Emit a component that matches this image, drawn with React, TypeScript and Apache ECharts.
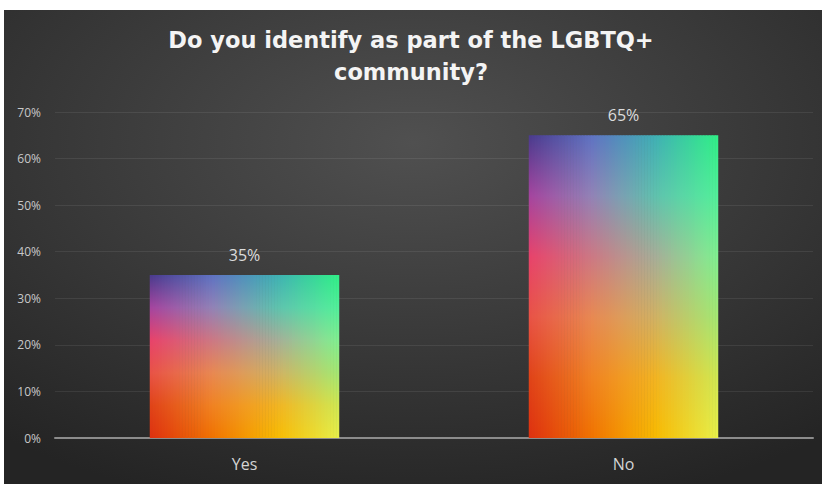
import React, { useEffect, useRef } from "react";
import * as echarts from "echarts";

const titleLines = ["Do you identify as part of the LGBTQ+", "community?"];
const categories = ["Yes", "No"];
const values = [35, 65];
const yTicks = { min: 0, max: 70, interval: 10 };

// colour grid for the rainbow picture fill (rows top->bottom, cols left->right)
const rowStops = [0, 0.2, 0.4, 0.6, 0.8, 1];
const colStops = [0, 0.33, 0.67, 1];
const colorGrid = [
  ["#4a3a8c", "#5f72c2", "#3fb0b4", "#30f086"],
  ["#a4449e", "#9282b6", "#5fc2ae", "#52f09a"],
  ["#e8426a", "#cc7884", "#a6ae98", "#80f090"],
  ["#e85246", "#e88852", "#d0b264", "#a4e872"],
  ["#e04218", "#f08222", "#f2b422", "#d0e852"],
  ["#de3010", "#f07200", "#f8ba00", "#e8f04a"],
];

function hexToRgb(h: string) {
  const n = parseInt(h.slice(1), 16);
  return [(n >> 16) & 255, (n >> 8) & 255, n & 255];
}
function mix(a: string, b: string, t: number) {
  const A = hexToRgb(a);
  const B = hexToRgb(b);
  const c = A.map((v, i) => Math.round(v + (B[i] - v) * t));
  return `rgb(${c[0]},${c[1]},${c[2]})`;
}
function rowColor(row: string[], fx: number) {
  for (let i = 0; i < colStops.length - 1; i++) {
    if (fx <= colStops[i + 1]) {
      const t = (fx - colStops[i]) / (colStops[i + 1] - colStops[i]);
      return mix(row[i], row[i + 1], t);
    }
  }
  return mix(row[row.length - 1], row[row.length - 1], 0);
}

export default function App() {
  const ref = useRef<HTMLDivElement>(null);
  useEffect(() => {
    if (!ref.current) return;
    const chart = echarts.init(ref.current, undefined, { renderer: "svg" });
    const N = 64;
    chart.setOption({
      animation: false,
      graphic: {
        elements: [
          {
            type: "rect",
            z: -100,
            silent: true,
            shape: { x: 4, y: 10, width: 818, height: 474 },
            style: {
              fill: new echarts.graphic.RadialGradient(0.5, 0.28, 0.8, [
                { offset: 0, color: "#505050" },
                { offset: 1, color: "#242424" },
              ]),
            },
          },
        ],
      },
      title: {
        text: titleLines.join("\n"),
        left: "center",
        top: 19,
        textStyle: {
          color: "#f4f4f4",
          fontSize: 22.5,
          fontWeight: "bold",
          fontFamily: "DejaVu Sans",
          lineHeight: 32,
        },
      },
      grid: { left: 55, right: 9, top: 112, bottom: 46 },
      xAxis: {
        type: "category",
        data: categories,
        axisLine: { lineStyle: { color: "#8c8c8c", width: 2 } },
        axisTick: { show: false },
        axisLabel: {
          color: "#d4d4d4",
          fontSize: 16,
          fontFamily: "Open Sans",
          margin: 18,
        },
      },
      yAxis: {
        type: "value",
        min: yTicks.min,
        max: yTicks.max,
        interval: yTicks.interval,
        axisLine: { show: false },
        axisTick: { show: false },
        splitLine: { lineStyle: { color: "rgba(255,255,255,0.08)", width: 1 } },
        axisLabel: {
          formatter: "{value}%",
          color: "#c8c8c8",
          fontSize: 12,
          fontFamily: "Open Sans",
          margin: 14,
        },
      },
      series: [
        {
          type: "bar",
          data: values,
          barWidth: "50%",
          itemStyle: { color: "rgba(0,0,0,0)" },
          label: {
            show: true,
            position: "top",
            distance: 12,
            formatter: "{c}%",
            color: "#dcdcdc",
            fontSize: 16,
            fontFamily: "Open Sans",
          },
          z: 1,
        },
        {
          type: "custom",
          data: values.map((v, i) => [i, v]),
          z: 3,
          renderItem: (params: any, api: any) => {
            const xi = api.value(0);
            const v = api.value(1);
            const top = api.coord([xi, v]);
            const base = api.coord([xi, 0]);
            const bandW = api.size([1, 0])[0];
            const w = bandW * 0.5;
            const left = top[0] - w / 2;
            const h = base[1] - top[1];
            const sw = w / N;
            const children: any[] = [];
            for (let i = 0; i < N; i++) {
              const fx = (i + 0.5) / N;
              const stops = rowStops.map((o, r) => ({
                offset: o,
                color: rowColor(colorGrid[r], fx),
              }));
              children.push({
                type: "rect",
                shape: {
                  x: left + i * sw,
                  y: top[1],
                  width: i === N - 1 ? sw : sw + 0.6,
                  height: h,
                },
                style: { fill: new echarts.graphic.LinearGradient(0, 0, 0, 1, stops) },
              });
            }
            return { type: "group", children };
          },
        },
      ],
    });
    return () => chart.dispose();
  }, []);
  return (
    <div
      ref={ref}
      style={{ position: "absolute", left: 0, top: 0, width: 822, height: 484, background: "#ffffff" }}
    />
  );
}
